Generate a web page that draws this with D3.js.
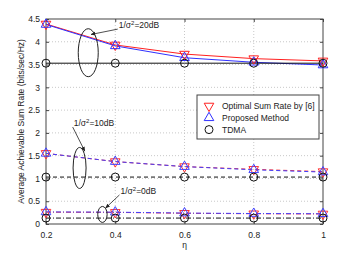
<!DOCTYPE html>
<head>
<meta charset="utf-8">
<style>
body { margin: 0; background: #fff; }
text { font-family: "Liberation Sans", Arial, sans-serif; font-size: 8.5px; fill: #222; }
.grid line { stroke: #c8c8c8; stroke-dasharray: 1,2; }
.frame { fill: none; stroke: #444; stroke-width: 1; }
</style>
</head>
<body>
<div class="viz"></div>
<script src="https://d3js.org/d3.v7.min.js"></script>
<script>
const eta = [0.2, 0.4, 0.6, 0.8, 1];
const xTicks = [0.2, 0.4, 0.6, 0.8, 1];
const yTicks = [0, 0.5, 1, 1.5, 2, 2.5, 3, 3.5, 4, 4.5];

// 1/sigma^2 = 20dB
const opt20 = [4.39, 3.93, 3.73, 3.63, 3.58];
const prop20 = [4.38, 3.91, 3.65, 3.55, 3.49];
const tdma20 = [3.53, 3.53, 3.53, 3.53, 3.53];
// 10dB
const opt10 = [1.55, 1.37, 1.26, 1.20, 1.15];
const prop10 = [1.55, 1.37, 1.26, 1.19, 1.14];
const tdma10 = [1.03, 1.03, 1.03, 1.03, 1.03];
// 0dB
const opt0 = [0.26, 0.255, 0.235, 0.225, 0.22];
const prop0 = [0.265, 0.26, 0.24, 0.23, 0.225];
const tdma0 = [0.13, 0.13, 0.13, 0.13, 0.13];

const legendLabels = ["Optimal Sum Rate by [6]", "Proposed Method", "TDMA"];

const W = 357, H = 253;
const margin = {top: 19, right: 34, bottom: 29, left: 46};
const width = W - margin.left - margin.right;
const height = H - margin.top - margin.bottom;

const svg = d3.select(".viz").append("svg")
    .attr("width", W)
    .attr("height", H);
const g = svg.append("g")
    .attr("transform", "translate(" + margin.left + "," + margin.top + ")");

const x = d3.scaleLinear().domain([0.2, 1]).range([0, width]);
const y = d3.scaleLinear().domain([0, 4.5]).range([height, 0]);

// grid
g.append("g").attr("class", "grid")
  .selectAll("line").data(xTicks.slice(1, -1)).enter().append("line")
    .attr("x1", d => x(d)).attr("x2", d => x(d))
    .attr("y1", 0).attr("y2", height);
g.append("g").attr("class", "grid")
  .selectAll("line").data(yTicks.slice(1, -1)).enter().append("line")
    .attr("x1", 0).attr("x2", width)
    .attr("y1", d => y(d)).attr("y2", d => y(d));

// axes (ticks inward)
const xAxis = g.append("g")
    .attr("transform", "translate(0," + height + ")")
    .call(d3.axisBottom(x).tickValues(xTicks).tickSize(-3).tickPadding(8).tickFormat(d3.format("")));
const yAxis = g.append("g")
    .call(d3.axisLeft(y).tickValues(yTicks).tickSize(-3).tickPadding(6).tickFormat(d3.format("")));
g.append("g")
    .attr("transform", "translate(" + width + ",0)")
    .call(d3.axisRight(y).tickValues(yTicks).tickSize(-3).tickFormat(""));
g.append("g")
    .call(d3.axisTop(x).tickValues(xTicks).tickSize(-3).tickFormat(""));
g.selectAll(".domain").remove();
g.selectAll(".tick line").attr("stroke", "#444");
g.selectAll(".tick text").style("font-family", "Liberation Sans, Arial, sans-serif").style("font-size", "8.5px").attr("fill", "#222");
g.append("rect").attr("class", "frame").attr("width", width).attr("height", height);

// series
const line = d3.line().x((d, i) => x(eta[i])).y(d => y(d));
const solid = null, dashed = "4,3", dashdot = "5,2,1,2";
const series = [
    {v: opt20, c: "#ff2020", dash: solid, m: "down"},
    {v: prop20, c: "#3030ff", dash: solid, m: "up"},
    {v: tdma20, c: "#111", dash: solid, m: "circle"},
    {v: opt10, c: "#ff3030", dash: dashed, m: "down"},
    {v: prop10, c: "#4040ff", dash: dashed, m: "up"},
    {v: tdma10, c: "#111", dash: dashed, m: "circle"},
    {v: opt0, c: "#ff3030", dash: dashdot, m: "down"},
    {v: prop0, c: "#4040ff", dash: dashdot, m: "up"},
    {v: tdma0, c: "#111", dash: dashdot, m: "circle"}
];

function marker(sel, type, color) {
    if (type === "circle") {
        sel.append("circle").attr("r", 4).attr("fill", "none").attr("stroke", color).attr("stroke-width", 1);
    } else {
        const s = d3.symbol().type(d3.symbolTriangle).size(40);
        sel.append("path").attr("d", s)
            .attr("transform", type === "down" ? "rotate(180)" : null)
            .attr("fill", "none").attr("stroke", color).attr("stroke-width", 1);
    }
}

series.forEach(function(s) {
    g.append("path").datum(s.v)
        .attr("d", line)
        .attr("fill", "none")
        .attr("stroke", s.c)
        .attr("stroke-width", 1)
        .attr("stroke-dasharray", s.dash);
});
series.forEach(function(s) {
    s.v.forEach(function(d, i) {
        const m = g.append("g").attr("transform", "translate(" + x(eta[i]) + "," + y(d) + ")");
        marker(m, s.m, s.c);
    });
});

// annotations: ellipse + arrow + label
svg.append("defs").append("marker")
    .attr("id", "arr").attr("viewBox", "0 0 10 10").attr("refX", 9).attr("refY", 5)
    .attr("markerWidth", 6).attr("markerHeight", 6).attr("orient", "auto")
  .append("path").attr("d", "M0,1 L10,5 L0,9 z").attr("fill", "#222");

const notes = [
    {cx: 0.322, cy: 3.76, rx: 10, ry: 24, lx: 0.41, ly: 4.3, ax: 0.33, ay: 4.16, label: "20dB"},
    {cx: 0.297, cy: 1.23, rx: 6.5, ry: 20.5, lx: 0.28, ly: 2.15, ax: 0.312, ay: 1.6, label: "10dB"},
    {cx: 0.363, cy: 0.21, rx: 4.7, ry: 8, lx: 0.415, ly: 0.66, ax: 0.372, ay: 0.35, label: "0dB"}
];
notes.forEach(function(n) {
    g.append("ellipse")
        .attr("cx", x(n.cx)).attr("cy", y(n.cy))
        .attr("rx", n.rx).attr("ry", n.ry)
        .attr("fill", "none").attr("stroke", "#222").attr("stroke-width", 1);
    g.append("line")
        .attr("x1", x(n.lx) - 1).attr("y1", y(n.ly) + 1)
        .attr("x2", x(n.ax)).attr("y2", y(n.ay))
        .attr("stroke", "#222").attr("stroke-width", 0.8)
        .attr("marker-end", "url(#arr)");
    const t = g.append("text").attr("x", x(n.lx)).attr("y", y(n.ly));
    t.append("tspan").text("1/\u03c3");
    t.append("tspan").attr("dy", -3).style("font-size", "6px").text("2");
    t.append("tspan").attr("dy", 3).text("=" + n.label);
});

// legend
const lg = g.append("g").attr("transform", "translate(" + (197 - margin.left) + "," + (95 - margin.top) + ")");
lg.append("rect").attr("width", 122).attr("height", 44)
    .attr("fill", "#fff").attr("stroke", "#444").attr("stroke-width", 1);
const legTypes = [["down", "#ff2020"], ["up", "#3030ff"], ["circle", "#111"]];
legendLabels.forEach(function(lab, i) {
    const row = lg.append("g").attr("transform", "translate(12," + (11 + i * 11.8) + ")");
    marker(row, legTypes[i][0], legTypes[i][1]);
    row.append("text").attr("x", 13).attr("y", 3).text(lab);
});

// axis titles
svg.append("text")
    .attr("x", margin.left + width / 2).attr("y", 248)
    .attr("text-anchor", "middle").text("\u03b7");
svg.append("text")
    .attr("transform", "translate(24," + (margin.top + height / 2) + ") rotate(-90)")
    .attr("text-anchor", "middle").text("Average Achievable Sum Rate (bits/sec/Hz)");
</script>
</body>
